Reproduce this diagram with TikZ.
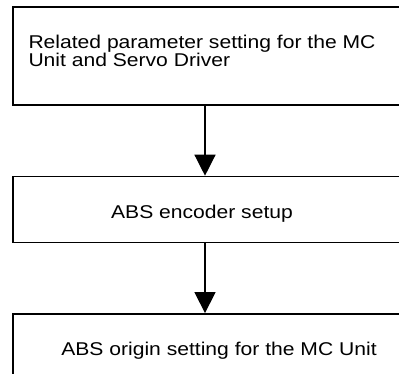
\documentclass[tikz,border=0pt]{standalone}
\usepackage{fontspec}
\setmainfont[FakeStretch=1.14]{Liberation Sans}
\usetikzlibrary{positioning, arrows.meta}

\begin{document}
\begin{tikzpicture}[
  x=1pt, y=1pt,
  node distance=70pt,
  stepbox/.style={draw, line width=1.4pt, minimum width=389pt, inner sep=0pt},
  steptext/.style={inner sep=0pt, font=\fontsize{18.5}{18}\selectfont},
  arrow/.style={-{Triangle[length=21pt, width=21pt]}, line width=1.3pt},
]
\useasboundingbox (0,0) rectangle (399,-373);
\clip (0,0) rectangle (399,-373);

% Boxes
\node[stepbox, minimum height=98pt] (param) at (207.5,-56) {};
\node[stepbox, minimum height=66pt, below=of param] (encoder) {};
\node[stepbox, minimum height=89pt, below=of encoder] (origin) {};

% Texts
\node[steptext, anchor=north west, align=left] (paramtext) at ([xshift=16pt, yshift=-28.75pt]param.north west) {Related parameter setting for the MC\\Unit and Servo Driver};
\node[steptext, anchor=base] (encodertext) at ([xshift=-5.5pt, yshift=-9pt]encoder.center) {ABS encoder setup};
\node[steptext, anchor=base] (origintext) at ([xshift=11.5pt, yshift=2.5pt]origin.center) {ABS origin setting for the MC Unit};

% Flow
\draw[arrow] ([xshift=-2.5pt]param.south) -- ([xshift=-2.5pt]encoder.north);
\draw[arrow] ([xshift=-2.5pt]encoder.south) -- ([xshift=-2.5pt]origin.north);

\end{tikzpicture}
\end{document}
